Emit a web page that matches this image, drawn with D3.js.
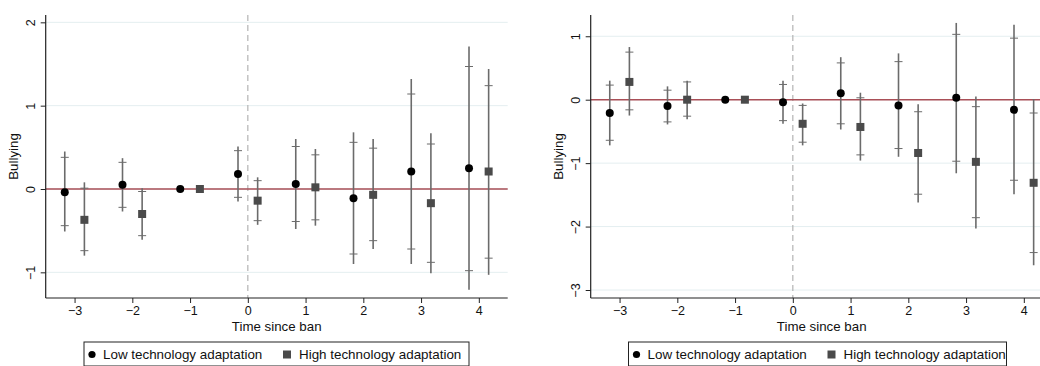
<!DOCTYPE html>
<html>
<head>
<meta charset="utf-8">
<script src="https://cdn.jsdelivr.net/npm/d3@7"></script>
<style>
  html, body { margin: 0; padding: 0; background: #fff; }
  svg { display: block; font-family: "Liberation Sans", Arial, Helvetica, sans-serif; }
</style>
</head>
<body>
<svg id="chart" width="1040" height="366"></svg>
<script>
// Event-study estimates by years since the ban, two outcomes side by side.
const periods = [-3, -2, -1, 0, 1, 2, 3, 4];
const seriesNames = ["Low technology adaptation", "High technology adaptation"];
const xTicks = [-3, -2, -1, 0, 1, 2, 3, 4];

// Panel A
const aLowEst  = [-0.04, 0.05, 0, 0.18, 0.06, -0.11, 0.21, 0.25];
const aLowCI95 = [[-0.51, 0.45], [-0.27, 0.37], null, [-0.15, 0.51], [-0.48, 0.60], [-0.90, 0.68], [-0.90, 1.32], [-1.21, 1.71]];
const aLowCI90 = [[-0.44, 0.38], [-0.22, 0.32], null, [-0.10, 0.46], [-0.39, 0.51], [-0.78, 0.56], [-0.72, 1.14], [-0.98, 1.47]];
const aHighEst  = [-0.37, -0.30, 0, -0.14, 0.02, -0.07, -0.17, 0.21];
const aHighCI95 = [[-0.80, 0.08], [-0.61, 0.01], null, [-0.43, 0.14], [-0.44, 0.48], [-0.72, 0.60], [-1.01, 0.67], [-1.03, 1.44]];
const aHighCI90 = [[-0.74, 0.01], [-0.56, -0.03], null, [-0.38, 0.10], [-0.37, 0.41], [-0.62, 0.49], [-0.88, 0.54], [-0.83, 1.24]];
const aYTicks = [-1, 0, 1, 2];

// Panel B
const bLowEst  = [-0.21, -0.10, 0, -0.04, 0.10, -0.09, 0.03, -0.16];
const bLowCI95 = [[-0.72, 0.30], [-0.39, 0.21], null, [-0.38, 0.30], [-0.47, 0.67], [-0.90, 0.73], [-1.16, 1.21], [-1.49, 1.18]];
const bLowCI90 = [[-0.64, 0.23], [-0.35, 0.15], null, [-0.33, 0.24], [-0.38, 0.58], [-0.77, 0.60], [-0.97, 1.03], [-1.27, 0.97]];
const bHighEst  = [0.28, 0.00, 0, -0.38, -0.43, -0.84, -0.98, -1.31];
const bHighCI95 = [[-0.25, 0.83], [-0.31, 0.30], null, [-0.72, -0.06], [-0.96, 0.11], [-1.62, -0.07], [-2.03, 0.05], [-2.61, 0.01]];
const bHighCI90 = [[-0.16, 0.75], [-0.26, 0.28], null, [-0.67, -0.09], [-0.87, 0.03], [-1.49, -0.19], [-1.86, -0.11], [-2.41, -0.21]];
const bYTicks = [-3, -2, -1, 0, 1];

const fmt = v => (v < 0 ? "\u2212" + Math.abs(v) : String(v));
const svg = d3.select("#chart");

function drawPanel(opts) {
  const { left, yDomain, yTicks, low, high } = opts;
  const top = 15, bottom = 298;
  const width = 462;
  const x = d3.scaleLinear().domain([-3.5, 4.5]).range([left, left + width]);
  const y = d3.scaleLinear().domain(yDomain).range([bottom, top]);
  const g = svg.append("g");
  const offset = 0.17;

  // horizontal grid
  g.append("g").selectAll("line").data(yTicks).join("line")
    .attr("x1", left).attr("x2", left + width)
    .attr("y1", d => y(d)).attr("y2", d => y(d))
    .attr("stroke", "#e4eef0").attr("stroke-width", 1);

  // reference lines
  g.append("line")
    .attr("x1", x(0)).attr("x2", x(0)).attr("y1", top).attr("y2", bottom)
    .attr("stroke", "#b4b4b4").attr("stroke-width", 1.2).attr("stroke-dasharray", "6,4");
  g.append("line")
    .attr("x1", left).attr("x2", left + width).attr("y1", y(0)).attr("y2", y(0))
    .attr("stroke", "#a94f57").attr("stroke-width", 1.6);

  // axes
  const yAxis = d3.axisLeft(y).tickValues(yTicks).tickSize(5).tickPadding(3).tickFormat(fmt);
  const ya = g.append("g").attr("transform", `translate(${left},0)`).call(yAxis);
  ya.select(".domain").attr("d", `M-0,${top}V${bottom}`).attr("stroke", "#222").attr("stroke-width", 1.2);
  ya.selectAll(".tick line").attr("stroke", "#222");
  ya.selectAll(".tick text")
    .attr("font-size", 12.5).attr("fill", "#111")
    .attr("transform", "rotate(-90)")
    .attr("x", 0).attr("y", -15).attr("dy", "0.35em")
    .attr("text-anchor", "middle");

  const xAxis = d3.axisBottom(x).tickValues(xTicks).tickSize(5).tickPadding(3).tickFormat(fmt);
  const xa = g.append("g").attr("transform", `translate(0,${bottom})`).call(xAxis);
  xa.select(".domain").attr("d", `M${left},0H${left + width}`).attr("stroke", "#222").attr("stroke-width", 1.2);
  xa.selectAll(".tick line").attr("stroke", "#222");
  xa.selectAll(".tick text").attr("font-size", 12.5).attr("fill", "#111");

  // axis titles
  g.append("text").attr("x", left + width / 2).attr("y", 330.5)
    .attr("text-anchor", "middle").attr("font-size", 13.3).attr("fill", "#111")
    .text("Time since ban");
  g.append("text")
    .attr("transform", `translate(${left - 27.5},${(top + bottom) / 2}) rotate(-90)`)
    .attr("text-anchor", "middle").attr("font-size", 13.3).attr("fill", "#111")
    .text("Bullying");

  // series
  const series = [
    { est: low[0], ci95: low[1], ci90: low[2], dx: -offset, shape: "circle" },
    { est: high[0], ci95: high[1], ci90: high[2], dx: offset, shape: "square" }
  ];
  series.forEach(s => {
    const rows = periods.map((p, i) => ({ t: p + s.dx, est: s.est[i], c95: s.ci95[i], c90: s.ci90[i] }));
    const withCI = rows.filter(r => r.c95);
    g.append("g").selectAll("line").data(withCI).join("line")
      .attr("x1", d => x(d.t)).attr("x2", d => x(d.t))
      .attr("y1", d => y(d.c95[0])).attr("y2", d => y(d.c95[1]))
      .attr("stroke", "#6b6b6b").attr("stroke-width", 1.6);
    const caps = withCI.flatMap(d => [{ t: d.t, v: d.c90[0] }, { t: d.t, v: d.c90[1] }]);
    g.append("g").selectAll("line").data(caps).join("line")
      .attr("x1", d => x(d.t) - 4).attr("x2", d => x(d.t) + 4)
      .attr("y1", d => y(d.v)).attr("y2", d => y(d.v))
      .attr("stroke", "#6b6b6b").attr("stroke-width", 1);
    if (s.shape === "circle") {
      g.append("g").selectAll("circle").data(rows).join("circle")
        .attr("cx", d => x(d.t)).attr("cy", d => y(d.est)).attr("r", 4)
        .attr("fill", "#000");
    } else {
      g.append("g").selectAll("rect").data(rows).join("rect")
        .attr("x", d => x(d.t) - 4).attr("y", d => y(d.est) - 4)
        .attr("width", 8).attr("height", 8)
        .attr("fill", "#4a4a4a");
    }
  });
}

function drawLegend(x0, x1, top) {
  const g = svg.append("g");
  g.append("rect").attr("x", x0).attr("y", top).attr("width", x1 - x0).attr("height", 24)
    .attr("fill", "#fff").attr("stroke", "#222").attr("stroke-width", 1);
  const cy = top + 12.5;
  g.append("circle").attr("cx", x0 + 8).attr("cy", cy).attr("r", 3.6).attr("fill", "#000");
  g.append("text").attr("x", x0 + 19).attr("y", cy).attr("dy", "0.35em")
    .attr("font-size", 13.4).attr("fill", "#111").text(seriesNames[0]);
  g.append("rect").attr("x", x0 + 199).attr("y", cy - 4).attr("width", 8).attr("height", 8).attr("fill", "#4a4a4a");
  g.append("text").attr("x", x0 + 215).attr("y", cy).attr("dy", "0.35em")
    .attr("font-size", 13.4).attr("fill", "#111").text(seriesNames[1]);
}

drawPanel({
  left: 45.7, yDomain: [-1.308, 2.088], yTicks: aYTicks,
  low: [aLowEst, aLowCI95, aLowCI90], high: [aHighEst, aHighCI95, aHighCI90]
});
drawPanel({
  left: 590.7, yDomain: [-3.126, 1.335], yTicks: bYTicks,
  low: [bLowEst, bLowCI95, bLowCI90], high: [bHighEst, bHighCI95, bHighCI90]
});
drawLegend(84, 469, 342);
drawLegend(628.5, 1006.5, 342);
</script>
</body>
</html>
